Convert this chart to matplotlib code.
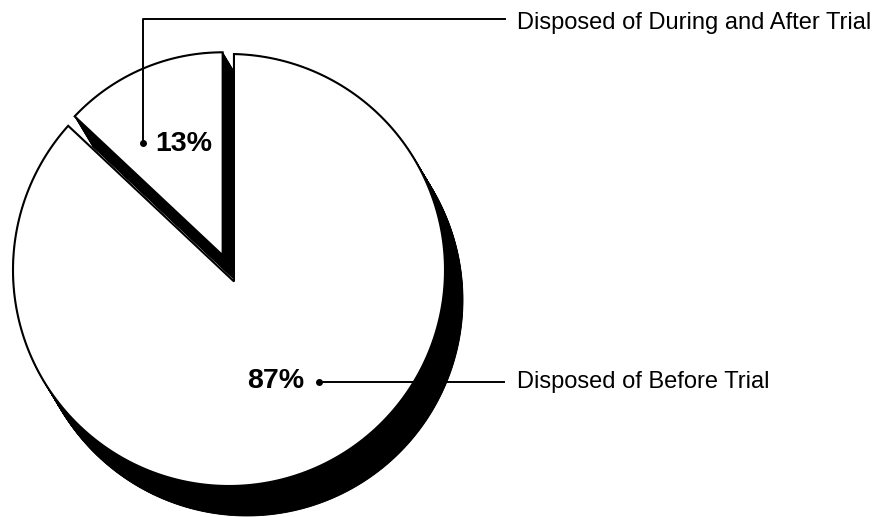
import numpy as np
import matplotlib.pyplot as plt
from matplotlib.patches import Polygon

# chart data
categories = ['Disposed of Before Trial', 'Disposed of During and After Trial']
shares = [87, 13]
pct_labels = [f'{v}%' for v in shares]

plt.rcParams['font.family'] = ['Liberation Sans', 'DejaVu Sans']

W, H = 888, 517
fig = plt.figure(figsize=(W / 100, H / 100), dpi=100)
ax = fig.add_axes([0, 0, 1, 1])
ax.set_xlim(0, W)
ax.set_ylim(0, H)
ax.axis('off')

# pie layout (pixel units, y up)
cx, cy, R = 229, 247, 216
explode = [12.5, 16]      # apex shift of each wedge
small_r = 203             # the pulled-out wedge is drawn a bit smaller
depth = np.array([18, -30])  # extrusion offset of the black side

# angles: small slice starts at 12 o'clock, runs counter-clockwise
a_small0 = 90.0
a_small1 = a_small0 + shares[1] / 100 * 360
a_big0, a_big1 = a_small1, a_small0 + 360


def unit(deg):
    r = np.radians(deg)
    return np.array([np.cos(r), np.sin(r)])


def ray_hit(apex, deg):
    u = unit(deg)
    d = apex - np.array([cx, cy])
    b = d @ u
    c = d @ d - R ** 2
    t = -b + np.sqrt(b * b - c)
    p = apex + t * u
    return np.degrees(np.arctan2(p[1] - cy, p[0] - cx))


# big wedge: apex pushed out, rim on the main circle
apex_big = np.array([cx, cy]) + explode[0] * unit((a_big0 + a_big1) / 2)
phi0 = ray_hit(apex_big, a_big0)
phi1 = ray_hit(apex_big, a_big1)
while phi1 <= phi0:
    phi1 += 360
arc = np.array([[cx, cy] + R * unit(p) for p in np.linspace(phi0, phi1, 300)])
big_pts = np.vstack([apex_big, arc])

# small wedge: proper sector around its own apex
apex_small = np.array([cx, cy]) + explode[1] * unit((a_small0 + a_small1) / 2)
arc_s = np.array([apex_small + small_r * unit(p) for p in np.linspace(a_small0, a_small1, 80)])
small_pts = np.vstack([apex_small, arc_s])

# black extruded sides
for t in np.linspace(0, 1, 60):
    for pts in (big_pts, small_pts):
        ax.add_patch(Polygon(pts + t * depth, closed=True, fc='black', ec='black', lw=0.6))

# white faces
for pts in (big_pts, small_pts):
    ax.add_patch(Polygon(pts, closed=True, fc='white', ec='black', lw=1.5, joinstyle='miter'))

# labels and leaders
lab_x = 517
# 13% slice
d13 = (143, H - 143)
ax.plot([d13[0], d13[0], 505], [d13[1], H - 19, H - 19], color='black', lw=1.4)
ax.plot(*d13, 'o', color='black', ms=4)
ax.text(155, H - 144, pct_labels[1], fontsize=20.5, fontweight='bold', ha='left', va='center')
ax.text(lab_x, H - 23, categories[1], fontsize=17, ha='left', va='center')

# 87% slice
d87 = (319, H - 382)
ax.plot([d87[0], 504], [d87[1], d87[1]], color='black', lw=1.4)
ax.plot(*d87, 'o', color='black', ms=4)
ax.text(304, H - 381, pct_labels[0], fontsize=20.5, fontweight='bold', ha='right', va='center')
ax.text(lab_x, H - 382, categories[0], fontsize=17, ha='left', va='center')

fig.savefig('out.png', dpi=100)
